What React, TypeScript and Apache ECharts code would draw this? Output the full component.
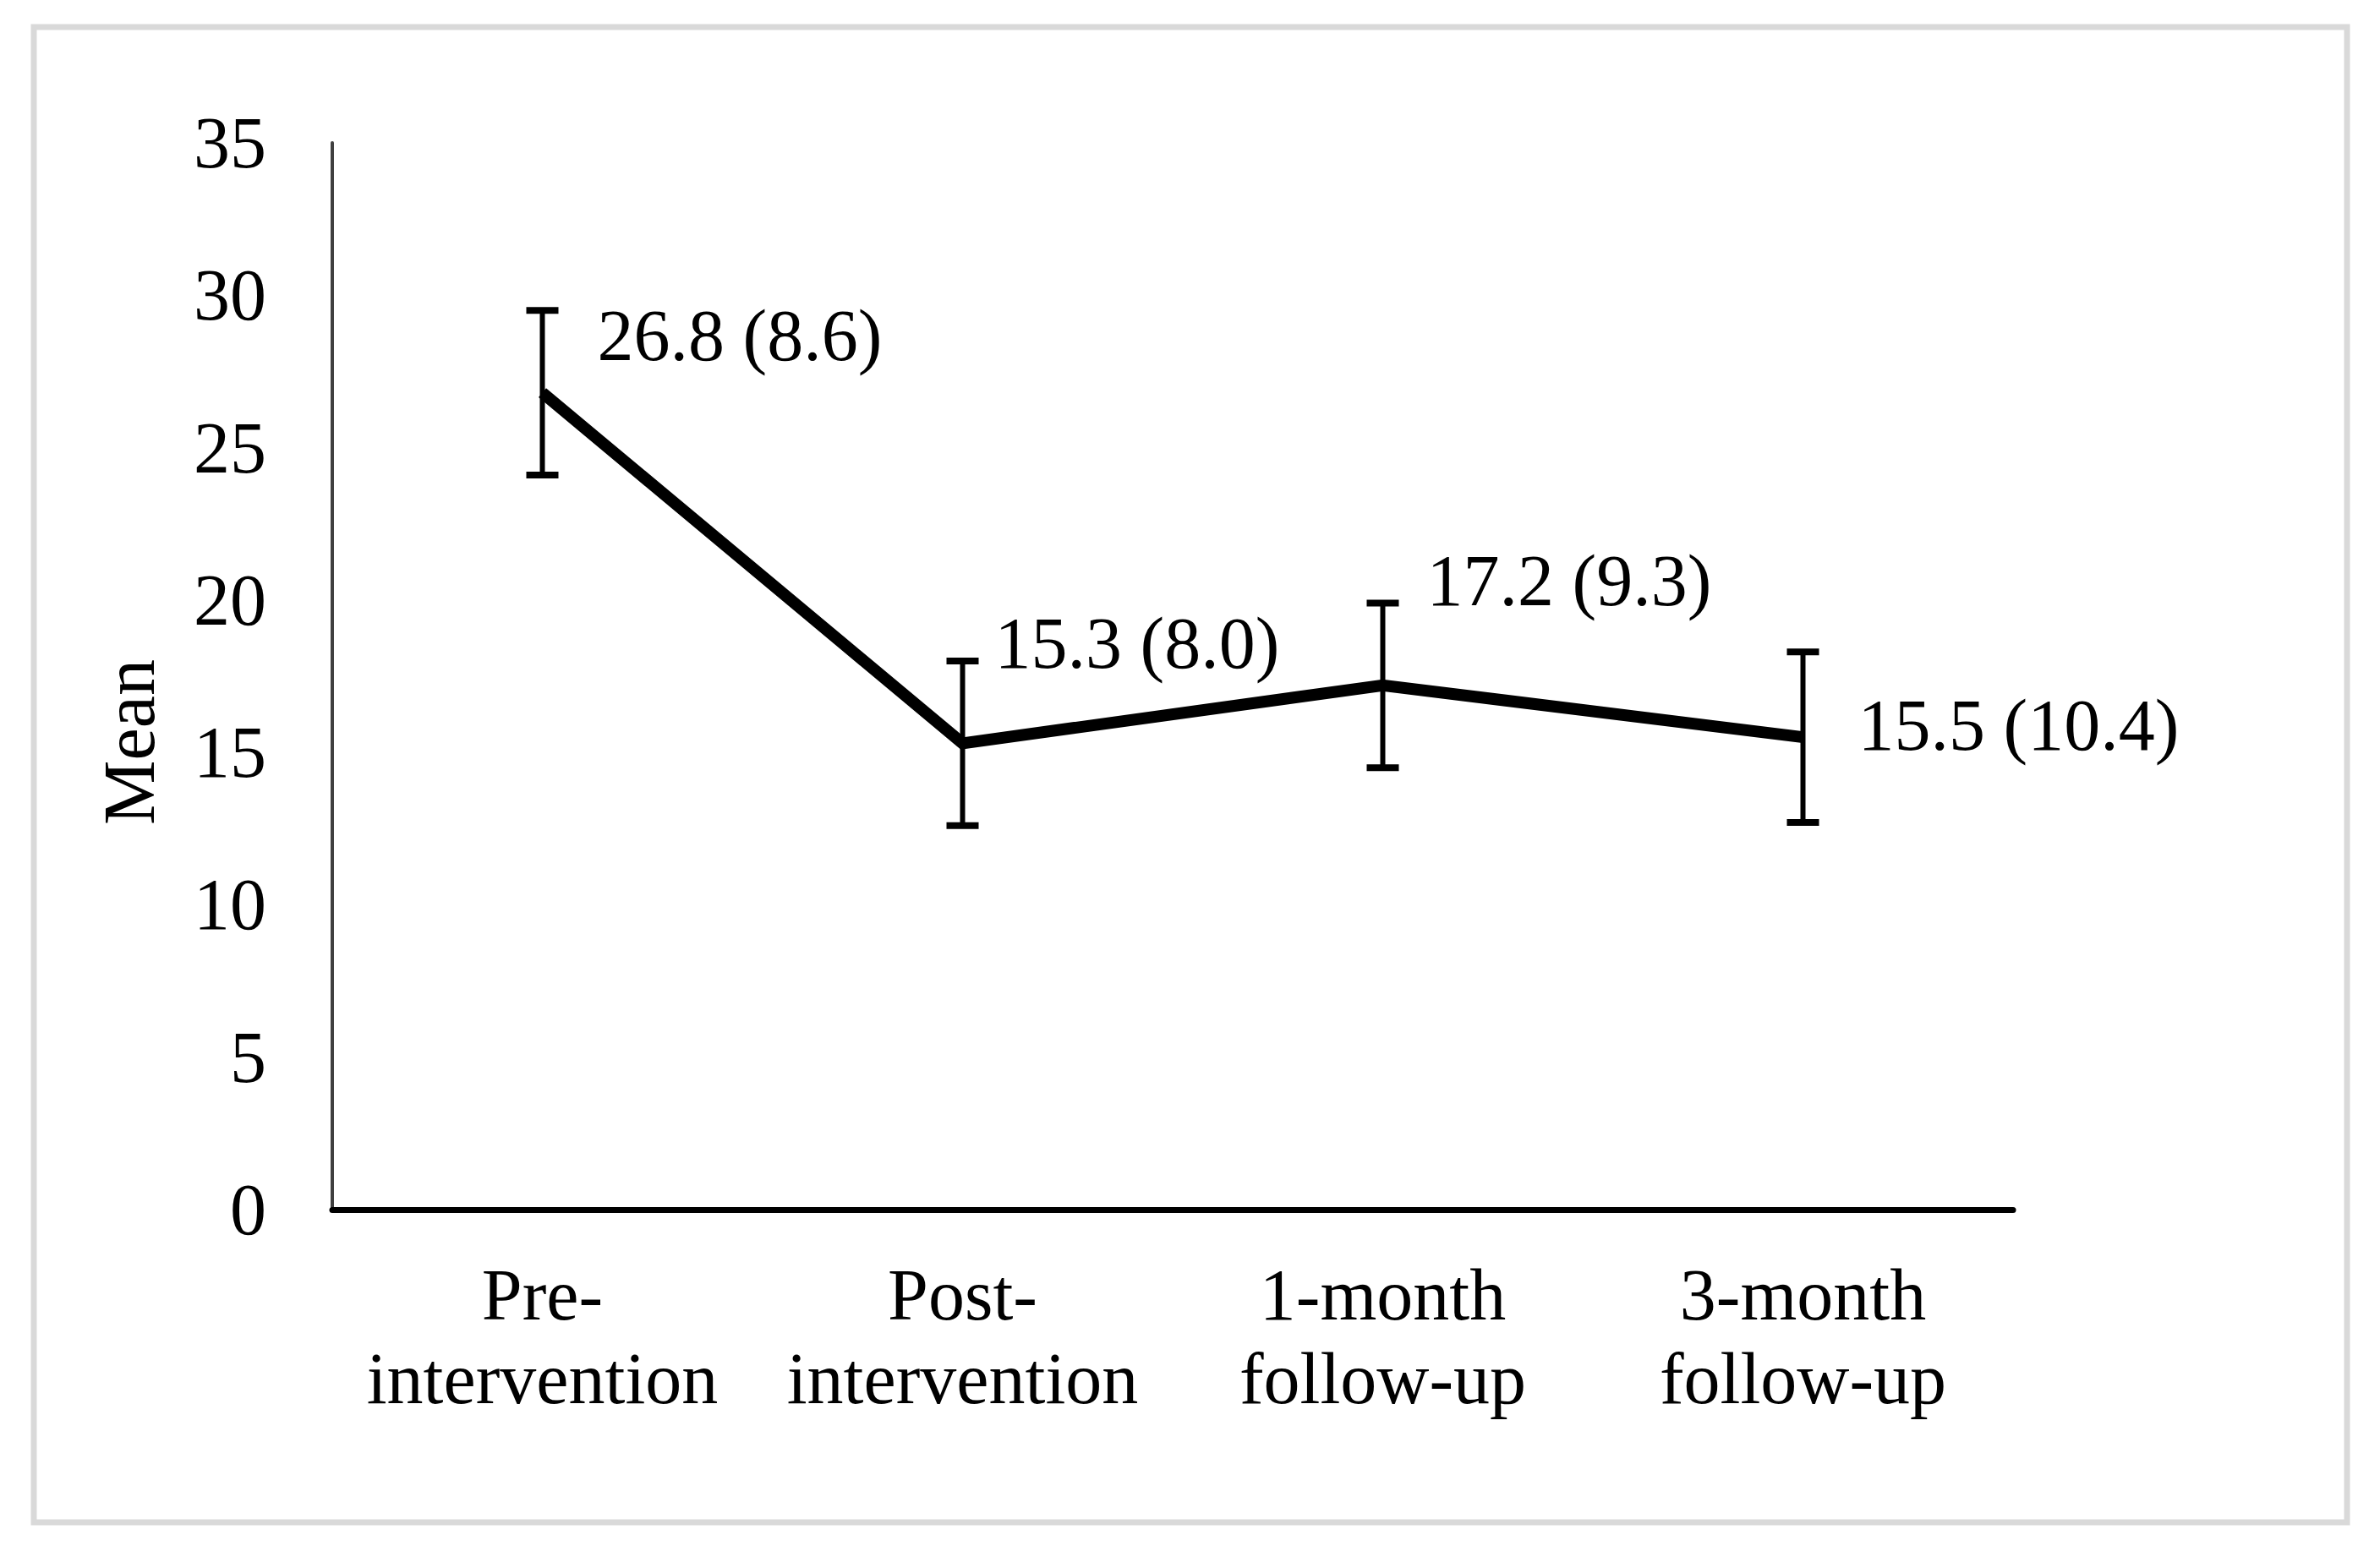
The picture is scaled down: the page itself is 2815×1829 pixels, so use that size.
import React, { useEffect, useRef } from "react";
import * as echarts from "echarts";

const categories = ["Pre-\nintervention", "Post-\nintervention", "1-month\nfollow-up", "3-month\nfollow-up"];
const means = [26.8, 15.3, 17.2, 15.5];
const sds = [8.6, 8.0, 9.3, 10.4];
const errLow = [24.1, 12.6, 14.5, 12.7];
const errHigh = [29.5, 18.0, 19.9, 18.3];
const yTicks = { min: 0, max: 35, interval: 5 };
const yAxisTitle = "Mean";
const labelOffsets = [
  [65, -68],
  [38, -118],
  [52, -124],
  [65, -14],
];

const FONT = "'Liberation Serif', 'Times New Roman', serif";

export default function App() {
  const ref = useRef<HTMLDivElement>(null);
  useEffect(() => {
    document.body.style.margin = "0";
    const chart = echarts.init(ref.current!, null, { renderer: "svg" });
    chart.setOption({
      animation: false,
      backgroundColor: "#ffffff",
      graphic: [
        {
          type: "rect",
          shape: { x: 40, y: 32, width: 2736, height: 1769 },
          style: { fill: "none", stroke: "#d9d9d9", lineWidth: 7 },
          z: -1,
        },
        {
          type: "text",
          x: 153,
          y: 878,
          rotation: Math.PI / 2,
          style: {
            text: yAxisTitle,
            fontSize: 86,
            fontFamily: FONT,
            fill: "#000000",
            align: "center",
            verticalAlign: "middle",
          },
        },
      ],
      grid: { left: 393, right: 434, top: 169, bottom: 398 },
      xAxis: {
        type: "category",
        data: categories,
        boundaryGap: true,
        axisLine: { show: true, lineStyle: { color: "#000000", width: 7 } },
        axisTick: { show: false },
        axisLabel: {
          interval: 0,
          margin: 51,
          fontSize: 86,
          lineHeight: 99,
          fontFamily: FONT,
          color: "#000000",
        },
        splitLine: { show: false },
      },
      yAxis: {
        type: "value",
        min: yTicks.min,
        max: yTicks.max,
        interval: yTicks.interval,
        axisLine: { show: true, lineStyle: { color: "#404040", width: 4 } },
        axisTick: { show: false },
        axisLabel: {
          margin: 78,
          fontSize: 86,
          fontFamily: FONT,
          color: "#000000",
        },
        splitLine: { show: false },
      },
      series: [
        {
          type: "custom",
          data: means.map((_, i) => [i, errLow[i], errHigh[i]]),
          renderItem: (params: any, api: any) => {
            const lo = api.coord([api.value(0), api.value(1)]);
            const hi = api.coord([api.value(0), api.value(2)]);
            const hw = 19;
            const st = { stroke: "#000000", lineWidth: 6 };
            return {
              type: "group",
              children: [
                { type: "line", shape: { x1: hi[0], y1: hi[1], x2: lo[0], y2: lo[1] }, style: st },
                { type: "line", shape: { x1: hi[0] - hw, y1: hi[1], x2: hi[0] + hw, y2: hi[1] }, style: { ...st, lineWidth: 8 } },
                { type: "line", shape: { x1: lo[0] - hw, y1: lo[1], x2: lo[0] + hw, y2: lo[1] }, style: { ...st, lineWidth: 8 } },
              ],
            };
          },
          z: 2,
        },
        {
          type: "line",
          data: means.map((v, i) => ({
            value: v,
            label: { offset: labelOffsets[i] },
          })),
          symbol: "circle",
          symbolSize: 2,
          itemStyle: { color: "#000000" },
          lineStyle: { color: "#000000", width: 14, join: "miter" },
          label: {
            show: true,
            position: "inside",
            align: "left",
            verticalAlign: "middle",
            fontSize: 86,
            fontFamily: FONT,
            color: "#000000",
            formatter: (p: any) => `${means[p.dataIndex].toFixed(1)} (${sds[p.dataIndex].toFixed(1)})`,
          },
          z: 3,
        },
      ],
    });
    return () => chart.dispose();
  }, []);
  return <div ref={ref} style={{ width: 2815, height: 1829 }} />;
}
